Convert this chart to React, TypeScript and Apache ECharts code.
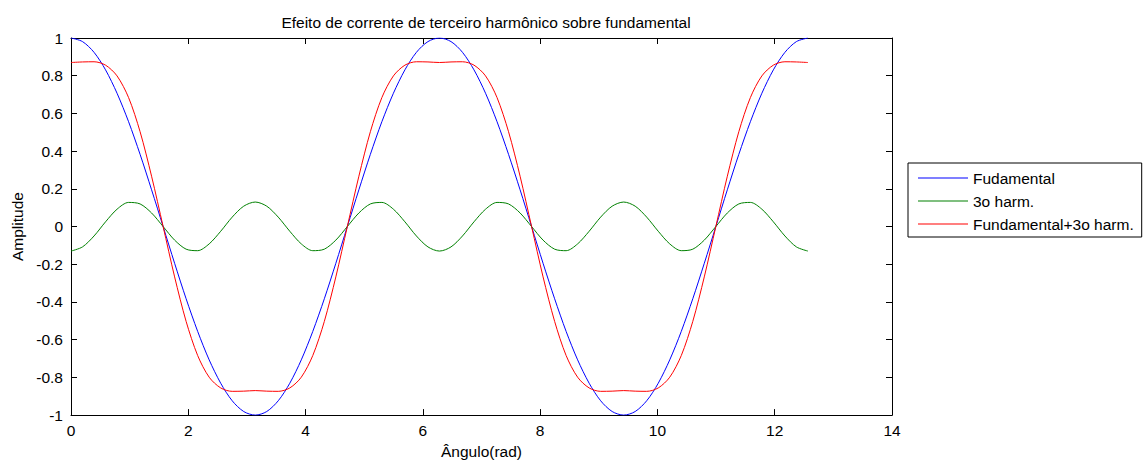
import React, { useEffect, useRef } from "react";
import * as echarts from "echarts";

const titleText = "Efeito de corrente de terceiro harmônico sobre fundamental";
const xName = "Ângulo(rad)";
const yName = "Amplitude";
const seriesNames = ["Fudamental", "3o harm.", "Fundamental+3o harm."];

const angles = [
  0, 0.196, 0.393, 0.589, 0.785, 0.982, 1.178, 1.374, 1.571, 1.767, 1.963, 2.16, 2.356, 2.553, 2.749, 2.945,
  3.142, 3.338, 3.534, 3.731, 3.927, 4.123, 4.32, 4.516, 4.712, 4.909, 5.105, 5.301, 5.498, 5.694, 5.89, 6.087,
  6.283, 6.48, 6.676, 6.872, 7.069, 7.265, 7.461, 7.658, 7.854, 8.05, 8.247, 8.443, 8.639, 8.836, 9.032, 9.228,
  9.425, 9.621, 9.817, 10.014, 10.21, 10.407, 10.603, 10.799, 10.996, 11.192, 11.388, 11.585, 11.781, 11.977, 12.174, 12.37,
  12.566,
];

const fundamental = [
  1, 0.981, 0.924, 0.831, 0.707, 0.556, 0.383, 0.195, 0, -0.195, -0.383, -0.556, -0.707, -0.831, -0.924, -0.981,
  -1, -0.981, -0.924, -0.831, -0.707, -0.556, -0.383, -0.195, 0, 0.195, 0.383, 0.556, 0.707, 0.831, 0.924, 0.981,
  1, 0.981, 0.924, 0.831, 0.707, 0.556, 0.383, 0.195, 0, -0.195, -0.383, -0.556, -0.707, -0.831, -0.924, -0.981,
  -1, -0.981, -0.924, -0.831, -0.707, -0.556, -0.383, -0.195, 0, 0.195, 0.383, 0.556, 0.707, 0.831, 0.924, 0.981,
  1,
];

const third = [
  -0.13, -0.108, -0.05, 0.025, 0.092, 0.128, 0.12, 0.072, 0, -0.072, -0.12, -0.128, -0.092, -0.025, 0.05, 0.108,
  0.13, 0.108, 0.05, -0.025, -0.092, -0.128, -0.12, -0.072, 0, 0.072, 0.12, 0.128, 0.092, 0.025, -0.05, -0.108,
  -0.13, -0.108, -0.05, 0.025, 0.092, 0.128, 0.12, 0.072, 0, -0.072, -0.12, -0.128, -0.092, -0.025, 0.05, 0.108,
  0.13, 0.108, 0.05, -0.025, -0.092, -0.128, -0.12, -0.072, 0, 0.072, 0.12, 0.128, 0.092, 0.025, -0.05, -0.108,
  -0.13,
];

const combined = [
  0.87, 0.873, 0.874, 0.856, 0.799, 0.684, 0.503, 0.267, 0, -0.267, -0.503, -0.684, -0.799, -0.856, -0.874, -0.873,
  -0.87, -0.873, -0.874, -0.856, -0.799, -0.684, -0.503, -0.267, 0, 0.267, 0.503, 0.684, 0.799, 0.856, 0.874, 0.873,
  0.87, 0.873, 0.874, 0.856, 0.799, 0.684, 0.503, 0.267, 0, -0.267, -0.503, -0.684, -0.799, -0.856, -0.874, -0.873,
  -0.87, -0.873, -0.874, -0.856, -0.799, -0.684, -0.503, -0.267, 0, 0.267, 0.503, 0.684, 0.799, 0.856, 0.874, 0.873,
  0.87,
];

const colors = ["#0000ff", "#008000", "#ff0000"];
const FONT = "'Liberation Sans', Arial, sans-serif";
const FS = 15.5;

export default function App() {
  const ref = useRef<HTMLDivElement>(null);
  useEffect(() => {
    if (!ref.current) return;
    const chart = echarts.init(ref.current, undefined, { renderer: "svg" });
    const allData = [fundamental, third, combined];
    const axisLine = { show: true, onZero: false, lineStyle: { color: "#000", width: 1 } };
    const tickIn = { show: true, inside: true, length: 6, lineStyle: { color: "#000" } };
    chart.setOption({
      animation: false,
      backgroundColor: "#fff",
      textStyle: { fontFamily: FONT },
      title: {
        text: titleText,
        left: 481,
        textAlign: "center",
        top: 9,
        textStyle: { fontFamily: FONT, fontSize: FS, fontWeight: "normal", color: "#000" },
      },
      grid: { left: 71, right: 253, top: 38, bottom: 46, containLabel: false },
      legend: {
        orient: "vertical",
        left: 908,
        top: 163,
        data: seriesNames,
        icon: "rect",
        itemWidth: 50,
        itemHeight: 1.2,
        itemGap: 7,
        padding: [7, 8, 5, 10],
        borderColor: "#000",
        borderWidth: 1,
        backgroundColor: "#fff",
        textStyle: { fontFamily: FONT, fontSize: FS, color: "#000", lineHeight: 16 },
      },
      xAxis: [
        {
          type: "value",
          min: 0,
          max: 14,
          interval: 2,
          position: "bottom",
          name: xName,
          nameLocation: "middle",
          nameGap: 27,
          nameTextStyle: { fontFamily: FONT, fontSize: FS, color: "#000" },
          axisLine,
          axisTick: tickIn,
          splitLine: { show: false },
          axisLabel: { fontFamily: FONT, fontSize: FS, color: "#000", margin: 7 },
        },
        {
          type: "value",
          min: 0,
          max: 14,
          interval: 2,
          position: "top",
          axisLine,
          axisTick: tickIn,
          splitLine: { show: false },
          axisLabel: { show: false },
        },
      ],
      yAxis: [
        {
          type: "value",
          min: -1,
          max: 1,
          interval: 0.2,
          position: "left",
          name: yName,
          nameLocation: "middle",
          nameGap: 45,
          nameRotate: 90,
          nameTextStyle: { fontFamily: FONT, fontSize: FS, color: "#000" },
          axisLine,
          axisTick: tickIn,
          splitLine: { show: false },
          axisLabel: { fontFamily: FONT, fontSize: FS, color: "#000", margin: 8 },
        },
        {
          type: "value",
          min: -1,
          max: 1,
          interval: 0.2,
          position: "right",
          axisLine,
          axisTick: tickIn,
          splitLine: { show: false },
          axisLabel: { show: false },
        },
      ],
      series: seriesNames.map((name, i) => ({
        name,
        type: "line",
        xAxisIndex: 0,
        yAxisIndex: 0,
        symbol: "none",
        smooth: 0.3,
        data: angles.map((a, j) => [a, allData[i][j]]),
        lineStyle: { color: colors[i], width: 1 },
        itemStyle: { color: colors[i] },
      })),
    });
    return () => chart.dispose();
  }, []);
  return (
    <div
      ref={ref}
      style={{ position: "fixed", left: 0, top: 0, width: 1145, height: 464, background: "#fff" }}
    />
  );
}
